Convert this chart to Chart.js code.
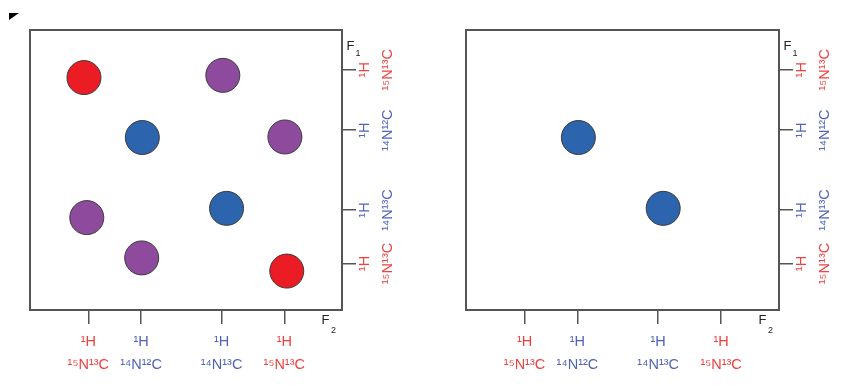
<!DOCTYPE html>
<html>
<head>
<meta charset="utf-8">
<script src="https://cdn.jsdelivr.net/npm/chart.js@4/dist/chart.umd.min.js"></script>
<style>
  html, body { margin: 0; padding: 0; background: #fff; }
  #wrap { position: relative; width: 844px; height: 386px; overflow: hidden; }
  canvas { position: absolute; top: 0; }
</style>
</head>
<body>
<div id="wrap">
  <canvas id="full" width="422" height="386" style="left:0"></canvas>
  <canvas id="filtered" width="422" height="386" style="left:422px"></canvas>
</div>
<script>
// F2 (direct dimension) tick positions and isotope labels
const f2TickPos = [18.7, 35.6, 61.4, 81.5];
const f2TickLabels = [['¹H', '¹⁵N¹³C'], ['¹H', '¹⁴N¹²C'], ['¹H', '¹⁴N¹³C'], ['¹H', '¹⁵N¹³C']];
const f2TickKinds = ['heavy', 'light', 'light', 'heavy'];

// F1 (indirect dimension) tick positions, top to bottom
const f1TickPos = [14.2, 35.8, 64.3, 83.4];
const f1TickLabels = [['¹H', '¹⁵N¹³C'], ['¹H', '¹⁴N¹²C'], ['¹H', '¹⁴N¹³C'], ['¹H', '¹⁵N¹³C']];
const f1TickKinds = ['heavy', 'light', 'light', 'heavy'];

// Cross peaks of the full spectrum
const labelledF2 = [17.3, 82.3];
const labelledF1 = [17.0, 86.1];
const unlabelledF2 = [36.0, 63.0];
const unlabelledF1 = [38.4, 63.7];
const mixedF2 = [61.8, 81.7, 18.2, 35.8];
const mixedF1 = [16.2, 38.2, 67.0, 81.4];

// Cross peaks remaining after the isotope filter
const filteredF2 = [35.9, 63.0];
const filteredF1 = [38.4, 63.7];

const FONT = "'Liberation Sans', Arial, 'Noto Sans', sans-serif";
const labelColor = { heavy: '#EF4040', light: '#5063B8' };
const peakColor = { labelled: '#EC1C24', unlabelled: '#2C64AD', mixed: '#8E4B9E' };

function points(xs, ys) {
  return xs.map((x, i) => ({ x: x, y: ys[i] }));
}

function peakSet(xs, ys, color) {
  return {
    data: points(xs, ys),
    pointRadius: 17,
    pointBackgroundColor: color,
    pointBorderColor: '#3a3a3a',
    pointBorderWidth: 1,
    showLine: false
  };
}

// Frame round the plot area plus the F1 / F2 dimension names
const frame = {
  id: 'frame',
  afterDraw(chart, args, opts) {
    const { ctx, chartArea: a } = chart;
    ctx.save();
    ctx.strokeStyle = '#555';
    ctx.lineWidth = 2;
    ctx.strokeRect(a.left, a.top, a.right - a.left, a.bottom - a.top);
    ctx.fillStyle = '#222';
    ctx.textBaseline = 'alphabetic';
    ctx.textAlign = 'left';
    ctx.font = '13px ' + FONT;
    ctx.fillText('F', a.right + 4.5, a.top + 19.5);
    ctx.fillText('F', a.right - 20.5, a.bottom + 13.5);
    ctx.font = '9px ' + FONT;
    ctx.fillText('1', a.right + 13.5, a.top + 25.5);
    ctx.fillText('2', a.right - 11, a.bottom + 23);
    if (opts.corner) {
      ctx.fillStyle = '#000';
      ctx.beginPath();
      ctx.moveTo(9, 13);
      ctx.lineTo(19, 13);
      ctx.lineTo(9, 20);
      ctx.closePath();
      ctx.fill();
    }
    ctx.restore();
  }
};

function makeChart(id, datasets, padLeft, yWidth, corner) {
  const tickGrid = {
    drawOnChartArea: false,
    drawTicks: true,
    tickLength: 14,
    color: '#555',
    lineWidth: 1.5
  };
  return new Chart(document.getElementById(id), {
    type: 'scatter',
    data: { datasets: datasets },
    plugins: [frame],
    options: {
      responsive: false,
      animation: false,
      devicePixelRatio: 1,
      events: [],
      layout: { padding: { left: padLeft, top: 30, right: 0, bottom: 0 } },
      plugins: {
        legend: { display: false },
        tooltip: { enabled: false },
        frame: { corner: corner }
      },
      scales: {
        x: {
          type: 'linear',
          position: 'bottom',
          min: 0,
          max: 100,
          afterBuildTicks: s => { s.ticks = f2TickPos.map(v => ({ value: v })); },
          afterFit: s => { s.height = 76; },
          grid: tickGrid,
          border: { display: false },
          ticks: {
            autoSkip: false,
            maxRotation: 0,
            minRotation: 0,
            padding: 6,
            callback: (v, i) => f2TickLabels[i],
            color: c => labelColor[f2TickKinds[c.index]],
            font: { family: FONT, size: 14.5, lineHeight: 23 / 14.5 }
          }
        },
        y: {
          type: 'linear',
          position: 'right',
          min: 0,
          max: 100,
          reverse: true,
          afterBuildTicks: s => { s.ticks = f1TickPos.map(v => ({ value: v })); },
          afterFit: s => { s.width = yWidth; },
          grid: tickGrid,
          border: { display: false },
          ticks: {
            autoSkip: false,
            minRotation: 90,
            maxRotation: 90,
            crossAlign: 'center',
            padding: -0.5,
            callback: (v, i) => f1TickLabels[i],
            color: c => labelColor[f1TickKinds[c.index]],
            font: { family: FONT, size: 14.5, lineHeight: 23 / 14.5 }
          }
        }
      }
    }
  });
}

makeChart('full', [
  peakSet(labelledF2, labelledF1, peakColor.labelled),
  peakSet(mixedF2, mixedF1, peakColor.mixed),
  peakSet(unlabelledF2, unlabelledF1, peakColor.unlabelled)
], 30, 80, true);

makeChart('filtered', [
  peakSet(filteredF2, filteredF1, peakColor.unlabelled)
], 44, 65, false);
</script>
</body>
</html>
